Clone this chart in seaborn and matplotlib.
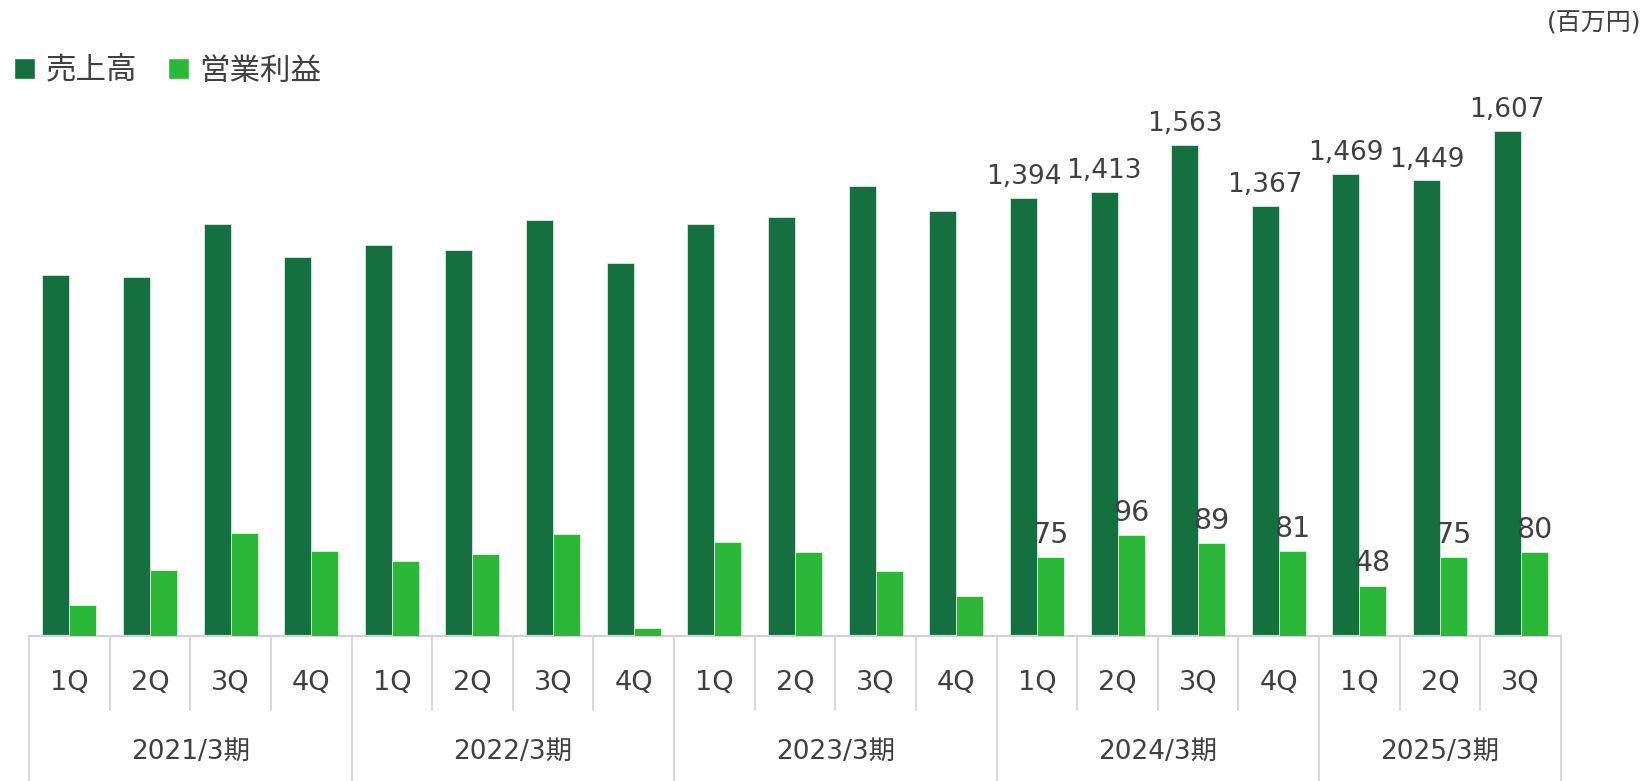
"""
売上高・営業利益の四半期推移（百万円）
"""

import matplotlib
matplotlib.use("Agg")
import matplotlib.pyplot as plt
import matplotlib.transforms as mtransforms
from matplotlib.patches import Patch
import seaborn as sns
import numpy as np
import pandas as pd

# ---- データ ----
YEARS = ["2021/3期", "2022/3期", "2023/3期", "2024/3期", "2025/3期"]
YEAR_QUARTERS = [4, 4, 4, 4, 3]
QUARTERS = ["1Q", "2Q", "3Q", "4Q"] * 4 + ["1Q", "2Q", "3Q"]
SALES = [1147, 1143, 1310, 1207,
         1243, 1227, 1323, 1187,
         1310, 1333, 1433, 1353,
         1394, 1413, 1563, 1367,
         1469, 1449, 1607]
PROFIT = [30, 63, 98, 81,
          72, 78, 97, 8,
          90, 80, 62, 38,
          75, 96, 89, 81,
          48, 75, 80]
LABEL_FROM = 12  # 2024/3期 1Q 以降だけ数値を表示

COLOR_SALES = "#15703F"
COLOR_PROFIT = "#2BB839"
COLOR_TEXT = "#404040"
COLOR_LINE = "#D2D2D2"
FONT = ["DejaVu Sans", "Noto Sans CJK JP"]

sns.set_style("white")
plt.rcParams["font.family"] = FONT

W, H = 1643, 781
fig = plt.figure(figsize=(W / 100, H / 100), dpi=100)

# 軸の配置（ピクセル基準）
left_px, right_px, base_px, top_px = 29, 1561, 636, 100
ax = fig.add_axes([left_px / W, (H - base_px) / H,
                   (right_px - left_px) / W, (base_px - top_px) / H])
ax2 = ax.twinx()

n = len(SALES)
idx = np.arange(n)
bar_w = 0.335
df = pd.DataFrame({"x": idx, "sales": SALES, "profit": PROFIT})

sns.barplot(x=df["x"] - bar_w / 2, y=df["sales"], ax=ax, native_scale=True,
            width=bar_w, color=COLOR_SALES, saturation=1, errorbar=None,
            edgecolor="white", linewidth=0.4)
sns.barplot(x=df["x"] + bar_w / 2, y=df["profit"], ax=ax2, native_scale=True,
            width=bar_w, color=COLOR_PROFIT, saturation=1, errorbar=None,
            edgecolor="white", linewidth=0.4)

ax.set_ylim(0, 1705)
ax2.set_ylim(0, 511.5)
for a in (ax, ax2):
    a.set_xlim(-0.5, n - 0.5)
    a.set_xlabel("")
    a.set_ylabel("")
    a.set_xticks([])
    a.set_yticks([])
    for s in a.spines.values():
        s.set_visible(False)

# 数値ラベル
for i in range(LABEL_FROM, n):
    ax.annotate(f"{SALES[i]:,}", (i - bar_w / 2, SALES[i]), xytext=(0, 15),
                textcoords="offset points", ha="center", va="center",
                fontsize=19, color=COLOR_TEXT, annotation_clip=False)
    ax2.annotate(f"{PROFIT[i]:,}", (i + bar_w / 2, PROFIT[i]), xytext=(0, 16),
                 textcoords="offset points", ha="center", va="center",
                 fontsize=20.5, color=COLOR_TEXT, annotation_clip=False)

# 下の表（四半期・年度）
ax_h = base_px - top_px
q_bottom = -(710 - base_px) / ax_h
f_bottom = -(H - base_px) / ax_h
trans = mtransforms.blended_transform_factory(ax.transData, ax.transAxes)

ax.plot([-0.5, n - 0.5], [0, 0], color=COLOR_LINE, lw=1.6, transform=trans,
        clip_on=False, zorder=5)
year_edges = np.concatenate([[0], np.cumsum(YEAR_QUARTERS)]) - 0.5
for b in np.arange(n + 1) - 0.5:
    y_end = f_bottom if np.isin(b, year_edges) else q_bottom
    ax.plot([b, b], [0, y_end], color=COLOR_LINE, lw=1.2, transform=trans,
            clip_on=False)

for i, q in enumerate(QUARTERS):
    ax.text(i, -(683 - base_px) / ax_h, q, transform=trans, ha="center",
            va="center", fontsize=19.5, color=COLOR_TEXT)
for k, yname in enumerate(YEARS):
    mid = (year_edges[k] + year_edges[k + 1]) / 2
    ax.text(mid, -(752 - base_px) / ax_h, yname, transform=trans,
            ha="center", va="center", fontsize=19, color=COLOR_TEXT)

# 凡例と単位
handles = [Patch(facecolor=COLOR_SALES, label="売上高"),
           Patch(facecolor=COLOR_PROFIT, label="営業利益")]
fig.legend(handles=handles, loc="center left", bbox_to_anchor=(2 / W, 1 - 71 / H),
           ncol=2, frameon=False, fontsize=22, handlelength=0.68,
           handleheight=0.68, handletextpad=0.35, columnspacing=1.0,
           labelcolor=COLOR_TEXT, borderaxespad=0)
fig.text(1 - 2 / W, 1 - 23 / H, "(百万円)", ha="right", va="center",
         fontsize=18, color=COLOR_TEXT)

fig.savefig("out.png", dpi=100)
